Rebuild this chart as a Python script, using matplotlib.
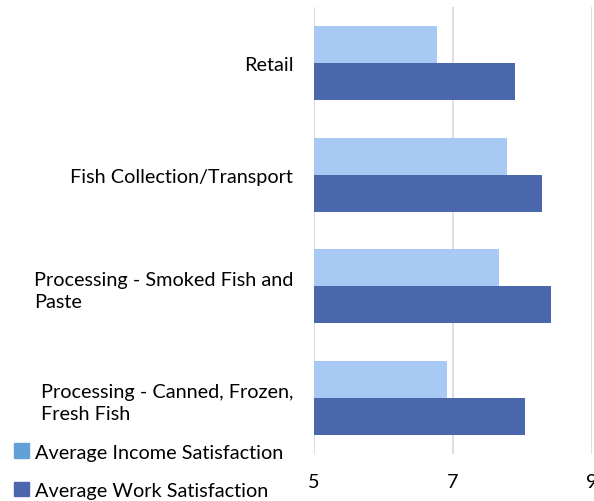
import matplotlib
matplotlib.use("Agg")
import matplotlib.pyplot as plt
from matplotlib.patches import Patch
import numpy as np

categories = [
    "Retail",
    "Fish Collection/Transport",
    "Processing - Smoked Fish and\nPaste",
    "Processing - Canned, Frozen,\nFresh Fish",
]
income_satisfaction = [6.77, 7.78, 7.67, 6.91]
work_satisfaction = [7.89, 8.29, 8.42, 8.04]
x_ticks = [5, 7, 9]

income_color = "#a9c9f5"
work_color = "#4a67ae"
income_legend_color = "#62a0da"
grid_color = "#d6d9e8"

plt.rcParams["font.family"] = ["Lato", "DejaVu Sans"]
fs = 14.3

fig = plt.figure(figsize=(5.94, 5.02), dpi=100)
ax = fig.add_axes([314 / 594, 1 - 455 / 502, (591.7 - 314) / 594, (455 - 8) / 502])

y = np.arange(len(categories))
h = 0.33
ax.barh(y - h / 2, [v - 5 for v in income_satisfaction], left=5, height=h,
        color=income_color, zorder=2)
ax.barh(y + h / 2, [v - 5 for v in work_satisfaction], left=5, height=h,
        color=work_color, zorder=2)

ax.set_xlim(5, 9)
ax.set_ylim(len(categories) - 0.5, -0.5)
ax.set_xticks(x_ticks)
ax.set_xticklabels([str(t) for t in x_ticks])
ax.set_yticks(y)
ax.set_yticklabels(categories)
for lbl in ax.get_yticklabels():
    lbl.set_multialignment("left")
    lbl.set_linespacing(1.35)
ax.tick_params(axis="x", length=0, pad=13.5, labelsize=fs)
ax.tick_params(axis="y", length=0, pad=15, labelsize=fs)
ax.grid(axis="x", color=grid_color, linewidth=1.2, zorder=0)
for s in ax.spines.values():
    s.set_visible(False)

handles = [Patch(color=income_legend_color), Patch(color=work_color)]
fig.legend(handles, ["Average Income Satisfaction", "Average Work Satisfaction"],
           loc="lower left", bbox_to_anchor=(0.0, -0.024), frameon=False,
           fontsize=fs, handlelength=0.75, handleheight=0.75, handletextpad=0.3,
           labelspacing=1.07, borderaxespad=0.3)

fig.savefig("out.png", dpi=100)
